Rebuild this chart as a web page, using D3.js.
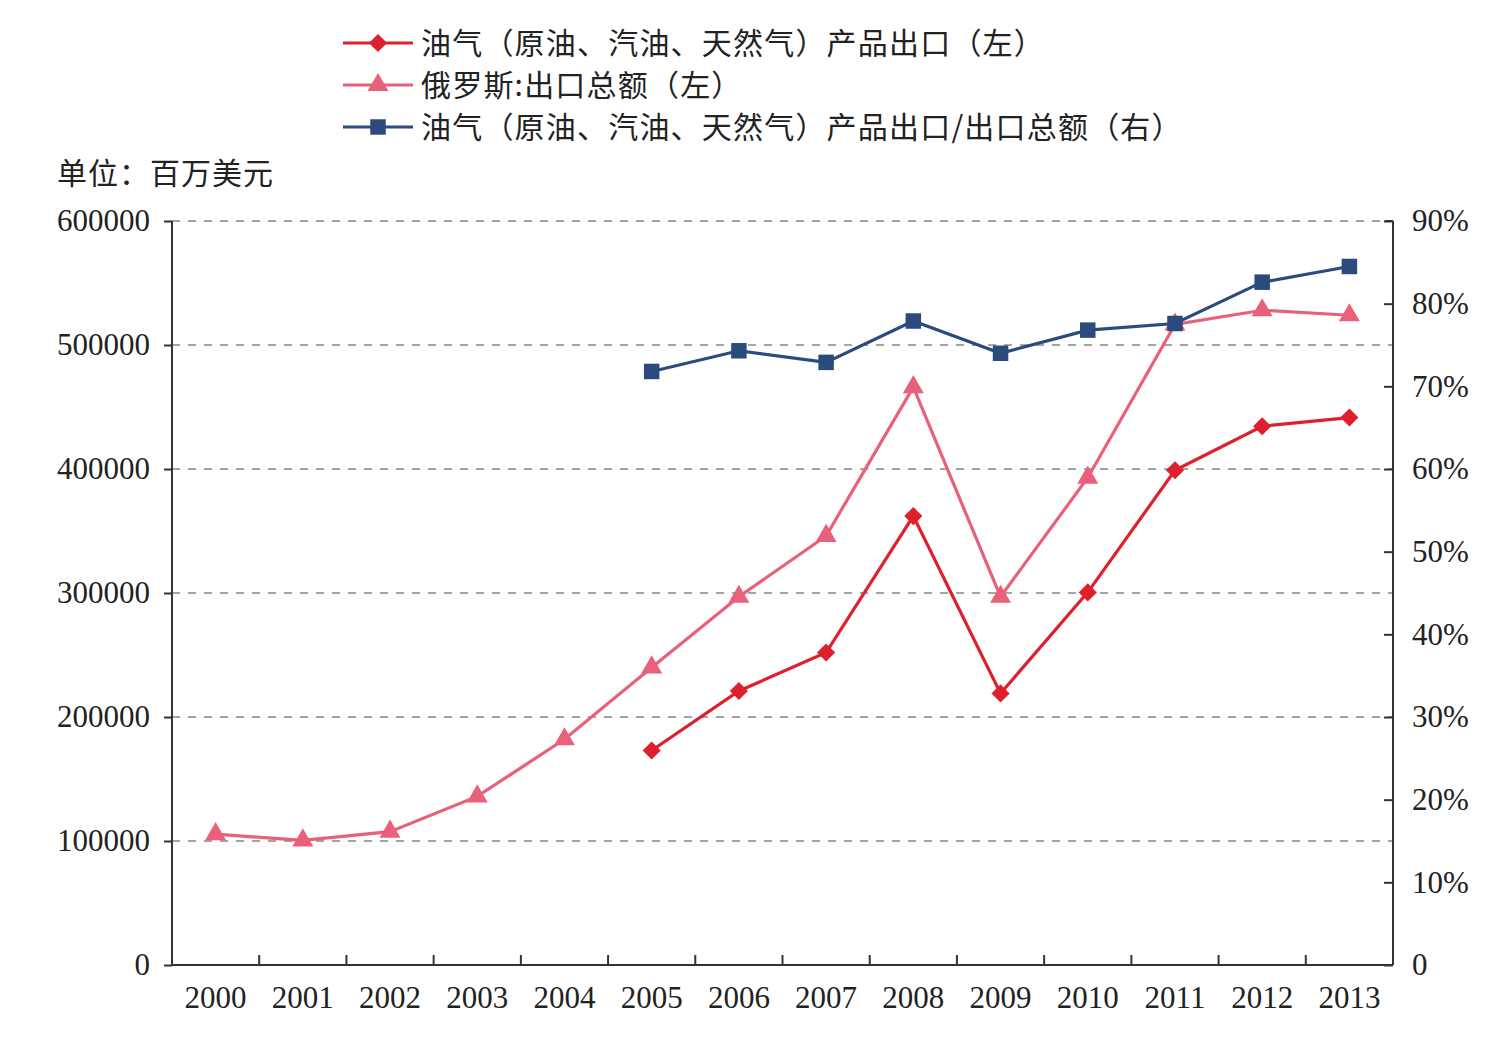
<!DOCTYPE html>
<html>
<head>
<meta charset="utf-8">
<script src="https://cdn.jsdelivr.net/npm/d3@7"></script>
<style>
  body { margin: 0; background: #fff; }
</style>
</head>
<body>
<svg id="chart" width="1495" height="1041"></svg>
<script>
// data
const years = ["2000","2001","2002","2003","2004","2005","2006","2007","2008","2009","2010","2011","2012","2013"];
const totalExports = [105500, 100500, 107500, 136000, 182000, 240000, 297000, 346000, 466000, 297000, 393000, 516500, 528000, 524000];
const oilGasExports = [null, null, null, null, null, 173000, 221000, 252000, 362000, 219000, 300500, 399000, 434500, 441500];
const oilGasShare = [null, null, null, null, null, 0.718, 0.743, 0.729, 0.779, 0.740, 0.768, 0.776, 0.826, 0.845];
const leftTicks = [0, 100000, 200000, 300000, 400000, 500000, 600000];
const rightTicks = [0, 0.1, 0.2, 0.3, 0.4, 0.5, 0.6, 0.7, 0.8, 0.9];
const legendNames = [
  "油气（原油、汽油、天然气）产品出口（左）",
  "俄罗斯:出口总额（左）",
  "油气（原油、汽油、天然气）产品出口/出口总额（右）"
];

const NUM_FONT = "'Liberation Serif', 'Times New Roman', Times, serif";
const CN_FONT = "'Noto Sans CJK SC', 'Noto Sans', sans-serif";

const svg = d3.select("#chart");
const margin = {left: 172, right: 1393, top: 221, bottom: 965};

const x = d3.scaleBand().domain(years).range([margin.left, margin.right]);
const yL = d3.scaleLinear().domain([0, 600000]).range([margin.bottom, margin.top]);
const yR = d3.scaleLinear().domain([0, 0.9]).range([margin.bottom, margin.top]);

// dashed grid lines
svg.append("g")
  .selectAll("line")
  .data(leftTicks.filter(d => d > 0))
  .enter().append("line")
  .attr("x1", margin.left).attr("x2", margin.right)
  .attr("y1", d => yL(d)).attr("y2", d => yL(d))
  .attr("stroke", "#888").attr("stroke-width", 1.3)
  .attr("stroke-dasharray", "8,8");

// left axis
const gL = svg.append("g")
  .attr("transform", `translate(${margin.left},0)`)
  .call(d3.axisLeft(yL).tickValues(leftTicks).tickFormat(d3.format("d")).tickSize(8).tickPadding(14));
// right axis (ticks inward)
const gR = svg.append("g")
  .attr("transform", `translate(${margin.right},0)`)
  .call(d3.axisRight(yR).tickValues(rightTicks)
    .tickFormat(d => d === 0 ? "0" : Math.round(d * 100) + "%").tickSize(0).tickPadding(19));
gR.selectAll(".tick").append("line").attr("x1", 0).attr("x2", -9);
// bottom axis (ticks at band boundaries, pointing up)
const gB = svg.append("g")
  .attr("transform", `translate(0,${margin.bottom})`)
  .call(d3.axisBottom(x).tickSize(0).tickPadding(21));
gB.selectAll(".tick text").attr("dy", "0.71em");
gB.append("g").selectAll("line")
  .data(years.slice(1))
  .enter().append("line")
  .attr("x1", d => x(d)).attr("x2", d => x(d))
  .attr("y1", 0).attr("y2", -10)
  .attr("stroke", "#333").attr("stroke-width", 2);

[gL, gR, gB].forEach(g => {
  g.attr("font-family", NUM_FONT).attr("font-size", 31);
  g.select(".domain").attr("stroke", "#333").attr("stroke-width", 2);
  g.selectAll(".tick line").attr("stroke", "#333").attr("stroke-width", 2);
  g.selectAll(".tick text")
    .style("font-family", NUM_FONT)
    .style("font-size", "31px")
    .attr("fill", "#222");
});
gL.select(".domain").attr("d", `M0,${margin.top}V${margin.bottom}`);
gR.select(".domain").attr("d", `M0,${margin.top}H-8M0,${margin.top}V${margin.bottom}`);
gB.select(".domain").attr("d", `M${margin.left},0H${margin.right}`);

// series
const series = [
  {values: oilGasExports, y: yL, color: "#de1f2c", symbol: d3.symbolDiamond2, size: 210},
  {values: totalExports, y: yL, color: "#e8607a", symbol: d3.symbolTriangle, size: 190},
  {values: oilGasShare, y: yR, color: "#2b4a7d", symbol: d3.symbolSquare, size: 240}
];

series.forEach(s => {
  const pts = years.map((yr, i) => ({yr, v: s.values[i]})).filter(p => p.v != null);
  const line = d3.line()
    .x(p => x(p.yr) + x.bandwidth() / 2)
    .y(p => s.y(p.v));
  svg.append("path")
    .datum(pts)
    .attr("d", line)
    .attr("fill", "none")
    .attr("stroke", s.color)
    .attr("stroke-width", 3.2);
  svg.append("g").selectAll("path")
    .data(pts)
    .enter().append("path")
    .attr("d", d3.symbol().type(s.symbol).size(s.size))
    .attr("transform", p => `translate(${x(p.yr) + x.bandwidth() / 2},${s.y(p.v)})`)
    .attr("fill", s.color);
});

// legend
const legend = svg.append("g");
series.forEach((s, i) => {
  const ly = 43 + i * 42;
  legend.append("line")
    .attr("x1", 343).attr("x2", 413)
    .attr("y1", ly).attr("y2", ly)
    .attr("stroke", s.color).attr("stroke-width", 3.2);
  legend.append("path")
    .attr("d", d3.symbol().type(s.symbol).size(s.size))
    .attr("transform", `translate(378,${ly})`)
    .attr("fill", s.color);
  legend.append("text")
    .attr("x", 421).attr("y", ly)
    .attr("dy", "0.36em")
    .style("font-family", CN_FONT)
    .style("font-size", "30px")
    .style("letter-spacing", "1.2px")
    .attr("fill", "#222")
    .text(legendNames[i]);
});

// unit label
svg.append("text")
  .attr("x", 57).attr("y", 173)
  .attr("dy", "0.36em")
  .style("font-family", CN_FONT)
  .style("font-size", "30px")
  .style("letter-spacing", "1px")
  .attr("fill", "#222")
  .text("单位：百万美元");
</script>
</body>
</html>
